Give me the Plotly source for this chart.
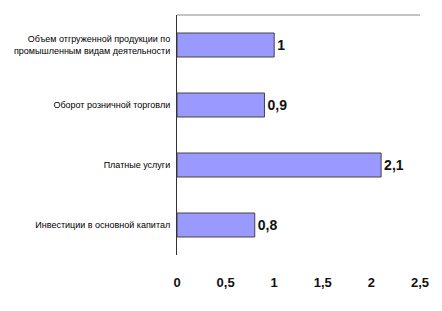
import plotly.graph_objects as go

categories = [
    "Объем отгруженной продукции по<br>промышленным видам деятельности",
    "Оборот розничной торговли",
    "Платные услуги",
    "Инвестиции в основной капитал",
]
values = [1, 0.9, 2.1, 0.8]
x_ticks = [0, 0.5, 1, 1.5, 2, 2.5]

fig = go.Figure(
    go.Bar(
        x=values,
        y=categories,
        orientation="h",
        marker=dict(color="#9999FF", line=dict(color="#444444", width=1)),
        text=[str(v).replace(".", ",") for v in values],
        textposition="outside",
        cliponaxis=False,
        textfont=dict(family="Liberation Sans", size=14, color="#111111", weight="bold"),
    )
)

fig.update_layout(
    width=442,
    height=311,
    margin=dict(l=177, r=22, t=15, b=56),
    plot_bgcolor="white",
    paper_bgcolor="white",
    separators=", ",
    bargap=0.6,
    showlegend=False,
    shapes=[
        dict(type="line", xref="paper", yref="paper", x0=0, x1=1, y0=1, y1=1,
             line=dict(color="#888888", width=1))
    ],
)

fig.update_xaxes(
    range=[0, 2.5],
    tickvals=x_ticks,
    showgrid=False,
    zeroline=False,
    showline=False,
    ticks="",
    ticklabelstandoff=18,
    tickfont=dict(family="Liberation Sans", size=13, color="#111111", weight="bold"),
)

fig.update_yaxes(
    autorange="reversed",
    showgrid=False,
    showline=True,
    linecolor="#333333",
    linewidth=1,
    ticks="",
    ticklabelstandoff=4,
    tickfont=dict(family="Liberation Sans", size=9, color="#000000"),
)

fig.write_html("out.html")
